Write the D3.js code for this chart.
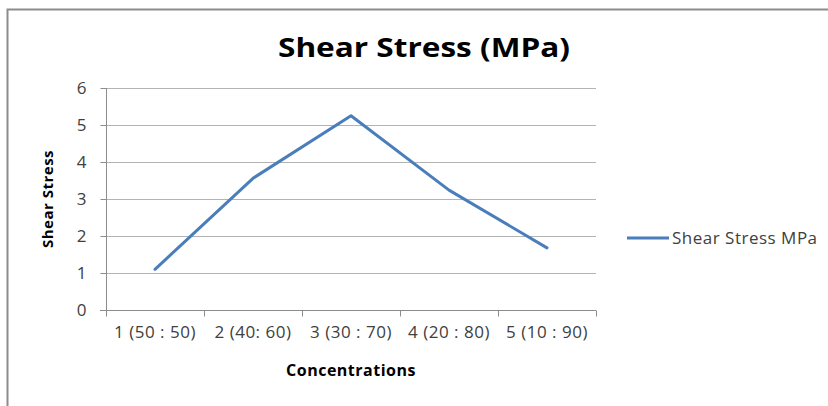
<!DOCTYPE html>
<html>
<head>
<meta charset="utf-8">
<script src="https://cdn.jsdelivr.net/npm/d3@7"></script>
<style>
  body { margin: 0; background: #fff; }
  svg { display: block; font-family: "Open Sans", "Liberation Sans", sans-serif; }
</style>
</head>
<body>
<svg id="chart" width="828" height="406"></svg>
<script>
// data
var categories = ["1 (50 : 50)", "2 (40: 60)", "3 (30 : 70)", "4 (20 : 80)", "5 (10 : 90)"];
var shearStress = [1.1, 3.56, 5.25, 3.24, 1.68];
var yTicks = [0, 1, 2, 3, 4, 5, 6];
var seriesName = "Shear Stress MPa";

var width = 828, height = 406;
var plot = {left: 106, right: 596, top: 88, bottom: 310};

var svg = d3.select("#chart");

// outer frame (top and left edges visible)
svg.append("path")
    .attr("d", "M7.5,406 V9.5 H828")
    .attr("fill", "none")
    .attr("stroke", "#8c8c8c")
    .attr("stroke-width", 2);

var x = d3.scaleBand().domain(categories).range([plot.left, plot.right]);
var y = d3.scaleLinear().domain([0, 6]).range([plot.bottom, plot.top]);

// gridlines
svg.append("g").selectAll("line")
    .data(yTicks.filter(function(d) { return d > 0; }))
    .enter().append("line")
    .attr("x1", plot.left).attr("x2", plot.right)
    .attr("y1", function(d) { return Math.round(y(d)) + 0.5; })
    .attr("y2", function(d) { return Math.round(y(d)) + 0.5; })
    .attr("stroke", "#b3b3b3")
    .attr("stroke-width", 1);

// y axis
var yAxis = svg.append("g")
    .attr("transform", "translate(" + (plot.left + 0.5) + ",0)")
    .call(d3.axisLeft(y).tickValues(yTicks).tickFormat(d3.format("d")).tickSize(6).tickPadding(14));
yAxis.select(".domain").attr("stroke", "#8c8c8c").attr("d", "M0," + plot.top + "V" + plot.bottom);
yAxis.selectAll(".tick line").attr("stroke", "#8c8c8c");
yAxis.selectAll(".tick text")
    .attr("font-size", null)
    .style("font-size", "17px")
    .attr("font-family", null)
    .attr("fill", "#404040");
yAxis.attr("font-size", null).attr("font-family", null);

// x axis with ticks at category boundaries
var xAxis = svg.append("g")
    .attr("transform", "translate(0," + (plot.bottom + 0.5) + ")");
xAxis.append("line")
    .attr("x1", plot.left - 6).attr("x2", plot.right)
    .attr("stroke", "#8c8c8c");
var bounds = categories.map(function(c) { return x(c); }).concat([x(categories[4]) + x.bandwidth()]);
xAxis.selectAll(".bt")
    .data(bounds)
    .enter().append("line")
    .attr("x1", function(d) { return Math.round(d) + 0.5; })
    .attr("x2", function(d) { return Math.round(d) + 0.5; })
    .attr("y1", 0).attr("y2", 6)
    .attr("stroke", "#8c8c8c");
xAxis.selectAll(".lbl")
    .data(categories)
    .enter().append("text")
    .attr("x", function(d) { return x(d) + x.bandwidth() / 2; })
    .attr("y", 27)
    .attr("text-anchor", "middle")
    .attr("fill", "#404040")
    .style("font-size", "17px")
    .style("letter-spacing", "0.5px")
    .text(function(d) { return d; });

// line
var line = d3.line()
    .x(function(d, i) { return x(categories[i]) + x.bandwidth() / 2; })
    .y(function(d) { return y(d); });

svg.append("path")
    .datum(shearStress)
    .attr("d", line)
    .attr("fill", "none")
    .attr("stroke", "#4a7ebb")
    .attr("stroke-width", 3)
    .attr("stroke-linejoin", "round")
    .attr("stroke-linecap", "round");

// title
svg.append("text")
    .attr("x", 424).attr("y", 57)
    .attr("text-anchor", "middle")
    .style("font-size", "27px")
    .style("font-weight", "bold")
    .attr("textLength", 292)
    .attr("lengthAdjust", "spacingAndGlyphs")
    .text("Shear Stress (MPa)");

// axis titles
svg.append("text")
    .attr("transform", "translate(53,199) rotate(-90)")
    .attr("text-anchor", "middle")
    .style("font-size", "15px")
    .style("font-weight", "bold")
    .style("letter-spacing", "0.5px")
    .text("Shear Stress");

svg.append("text")
    .attr("x", 351).attr("y", 376)
    .attr("text-anchor", "middle")
    .style("font-size", "16px")
    .style("font-weight", "bold")
    .style("letter-spacing", "0.5px")
    .text("Concentrations");

// legend
var legend = svg.append("g").attr("transform", "translate(627,238)");
legend.append("line")
    .attr("x1", 0).attr("x2", 42)
    .attr("stroke", "#4a7ebb")
    .attr("stroke-width", 3);
legend.append("text")
    .attr("x", 45).attr("y", 6)
    .attr("fill", "#404040")
    .style("font-size", "17px")
    .style("letter-spacing", "0.5px")
    .text(seriesName);
</script>
</body>
</html>
